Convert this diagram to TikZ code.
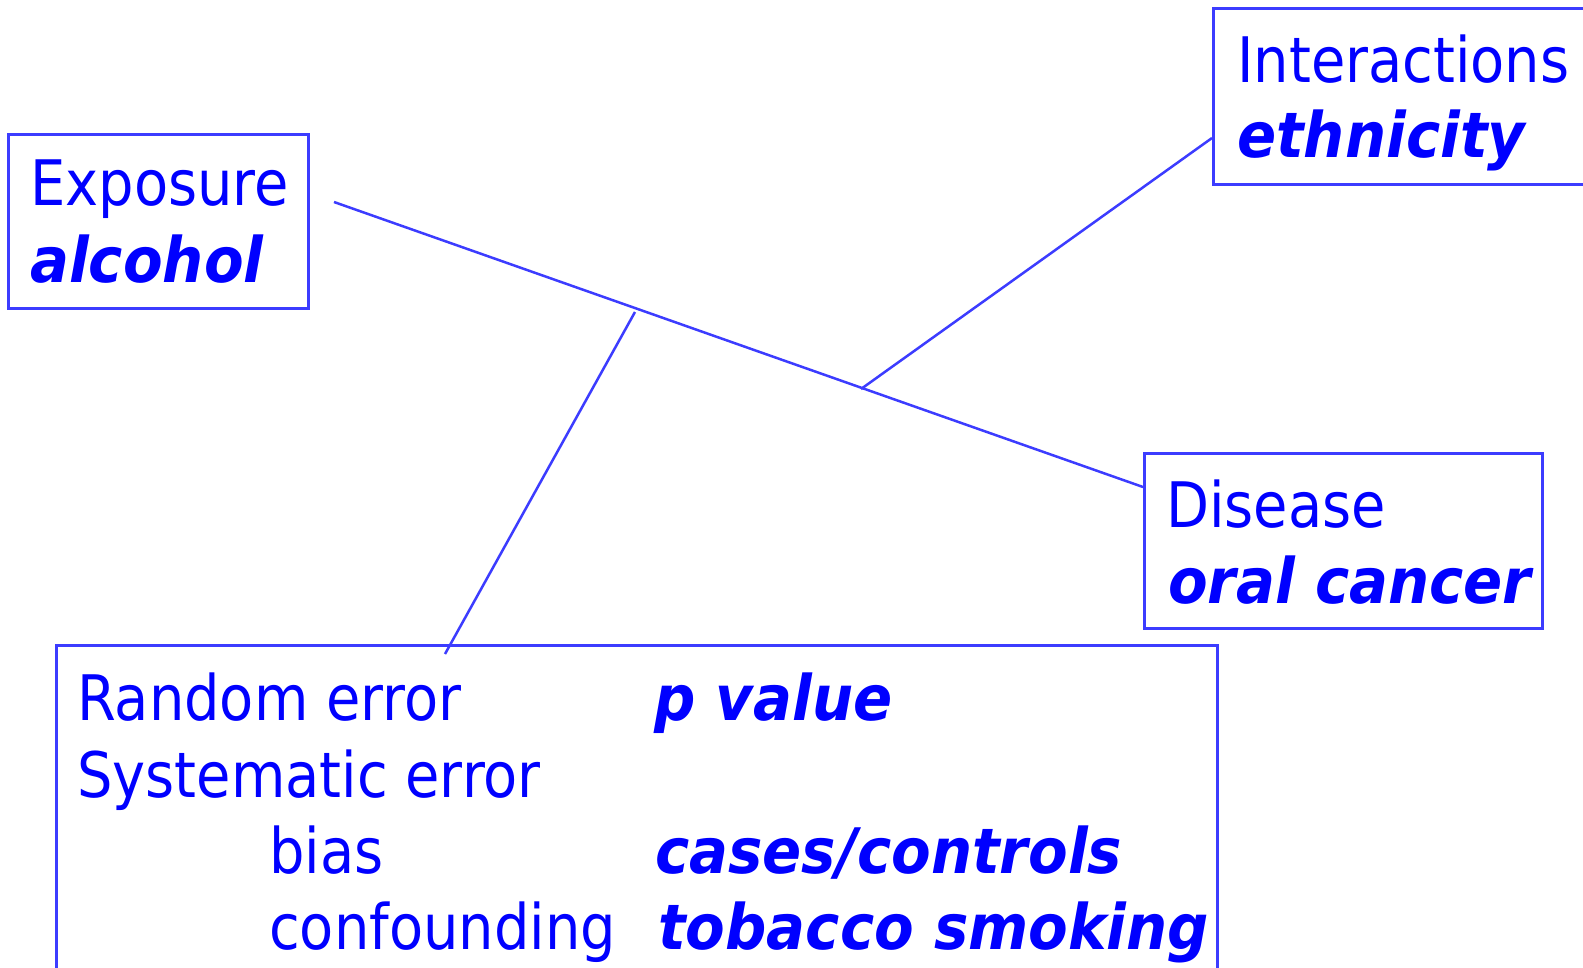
\documentclass[tikz,border=0pt]{standalone}
\usepackage{fontspec}
\newfontfamily\rfont{DejaVu Sans}[FakeStretch=0.89]
\newfontfamily\bifont{DejaVu Sans}[FakeStretch=0.92]
\definecolor{txtblue}{RGB}{0,0,255}
\definecolor{lineblue}{RGB}{60,60,255}
\tikzset{
  boxnode/.style={draw=lineblue, line width=2.5bp, anchor=north west, inner sep=0pt},
  plain/.style={anchor=base west, inner sep=0pt, text=txtblue, font=\rfont\fontsize{63}{76}\selectfont},
  emph/.style={anchor=base west, inner sep=0pt, text=txtblue, font=\bifont\bfseries\itshape\fontsize{63}{76}\selectfont},
  conn/.style={draw=lineblue, line width=2.5bp}
}
\begin{document}
\begin{tikzpicture}[x=1bp,y=-1bp]
\useasboundingbox (0,0) rectangle (1583,967);
% boxes
\node[boxnode, minimum width=300bp, minimum height=174bp] (expbox) at (7,133) {};
\node[boxnode, minimum width=390bp, minimum height=176bp] (intbox) at (1212,7) {};
\node[boxnode, minimum width=398bp, minimum height=175bp] (disbox) at (1143,452) {};
\node[boxnode, minimum width=1161bp, minimum height=360bp] (errbox) at (55,644) {};
% texts
\node[plain] (exp) at (30,205) {Exposure};
\node[emph] (alc) at (30,282) {alcohol};
\node[plain] (int) at (1237,82) {Interactions};
\node[emph] (eth) at (1237,157) {ethnicity};
\node[plain] (dis) at (1166,527) {Disease};
\node[emph] (oral) at (1168,603) {oral cancer};
\node[plain] (rand) at (77,720) {Random error};
\node[plain] (syst) at (77,797) {Systematic error};
\node[plain] (bias) at (269,873) {bias};
\node[plain] (conf) at (269,949) {confounding};
\node[emph] (pval) at (654,720) {p value};
\node[emph] (cases) at (655,873) {cases/controls};
\node[emph] (tob) at (658,949) {tobacco smoking};
% connectors
\coordinate (mstart) at (334,202);
\coordinate (mend) at (1143,487);
\coordinate (ijoin) at (861,389);
\coordinate (rtop) at (635,312);
\coordinate (rbot) at (445,654);
\draw[conn] (mstart) -- (mend);
\draw[conn] (ijoin) -- (intbox.west |- 0,138);
\draw[conn] (rtop) -- (rbot);
\end{tikzpicture}
\end{document}
